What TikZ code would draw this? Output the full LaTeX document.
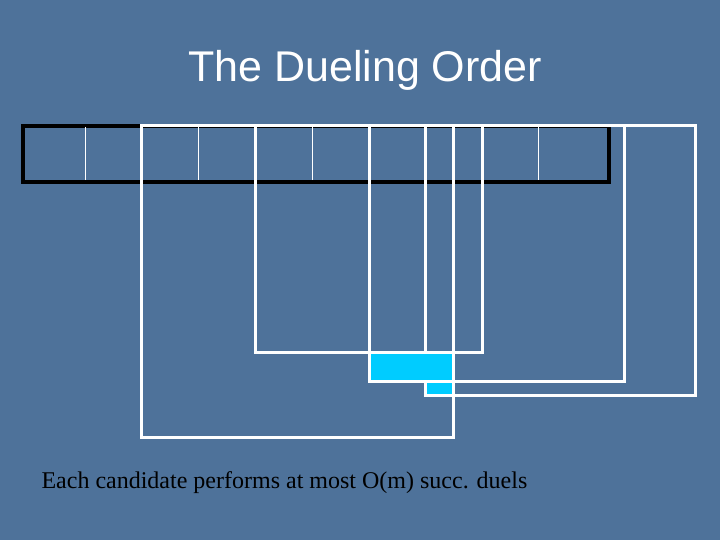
\documentclass[tikz,border=0pt]{standalone}
\usepackage{fontspec}
\setsansfont{Liberation Sans}
\setmainfont{Liberation Serif}
\begin{document}
\begin{tikzpicture}[x=1pt,y=-1pt,
  wbox/.style={draw=white,line width=3pt},
  thin/.style={draw=white,line width=0.8pt}]
\definecolor{bg}{HTML}{4E729A}
\definecolor{cy}{HTML}{00CCFF}
\fill[bg] (0,0) rectangle (720,540);
\useasboundingbox (0,0) rectangle (720,540);
\node (title) at (365,70) {\sffamily\fontsize{43}{48}\selectfont\color{white}The Dueling Order};
\draw[draw=black,line width=3.5pt] (23,126) rectangle (609,182);
\foreach \x in {85,198,312,538} \draw[thin] (\x,127) -- (\x,180);
\draw[wbox] (141,126) rectangle (453,437);
\draw[wbox] (255,126) rectangle (482,352);
\draw[wbox] (369,126) rectangle (624,381);
\draw[wbox] (425,126) rectangle (695,395);
\fill[cy] (370.5,353.5) rectangle (451.5,379.5);
\fill[cy] (426.5,382.5) rectangle (451.5,393.5);
\node[anchor=west] (cap) at (38,483) {\fontsize{24}{28}\selectfont Each candidate performs at most O(m) succ. duels};
\end{tikzpicture}
\end{document}
